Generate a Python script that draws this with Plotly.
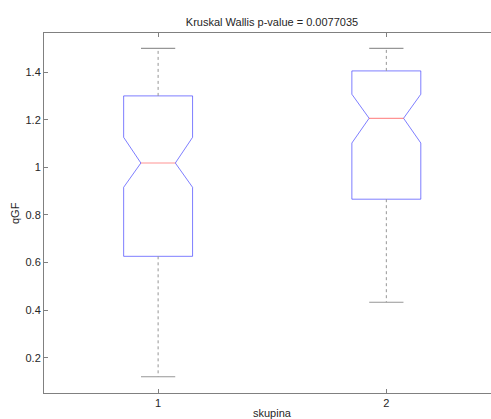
import plotly.graph_objects as go

# ---- data ----
groups = ["1", "2"]
positions = [1, 2]
lower_whisker = [0.12, 0.433]
q1 = [0.626, 0.866]
median = [1.018, 1.206]
q3 = [1.300, 1.405]
upper_whisker = [1.500, 1.500]
notch_low = [0.916, 1.102]
notch_high = [1.126, 1.307]
y_tick_vals = [0.2, 0.4, 0.6, 0.8, 1.0, 1.2, 1.4]
y_tick_text = ["0.2", "0.4", "0.6", "0.8", "1", "1.2", "1.4"]
title_text = "Kruskal Wallis p-value = 0.0077035"
x_title = "skupina"
y_title = "qGF"

# ---- styles ----
BOX_HALF = 0.151
NOTCH_HALF = 0.0755
CAP_HALF = 0.075
BOX_COLOR = "rgba(40,40,255,0.6)"
MED_COLOR = "rgba(255,40,40,0.5)"
WHISK_COLOR = "rgb(150,150,150)"
AXIS_COLOR = "rgb(128,128,128)"
TEXT_COLOR = "#262626"
FONT = "Liberation Sans, Arial, sans-serif"

fig = go.Figure()

for i, p in enumerate(positions):
    # notched box outline
    xs = [p - BOX_HALF, p - BOX_HALF, p - NOTCH_HALF, p - BOX_HALF, p - BOX_HALF,
          p + BOX_HALF, p + BOX_HALF, p + NOTCH_HALF, p + BOX_HALF, p + BOX_HALF,
          p - BOX_HALF]
    ys = [q1[i], notch_low[i], median[i], notch_high[i], q3[i],
          q3[i], notch_high[i], median[i], notch_low[i], q1[i],
          q1[i]]
    fig.add_trace(go.Scatter(x=xs, y=ys, mode="lines",
                             line=dict(color=BOX_COLOR, width=1),
                             hoverinfo="skip", showlegend=False))
    # median
    fig.add_trace(go.Scatter(x=[p - NOTCH_HALF, p + NOTCH_HALF], y=[median[i], median[i]],
                             mode="lines", line=dict(color=MED_COLOR, width=1.2),
                             hoverinfo="skip", showlegend=False))
    # whiskers (dashed)
    fig.add_trace(go.Scatter(x=[p, p], y=[q3[i], upper_whisker[i]], mode="lines",
                             line=dict(color=WHISK_COLOR, width=1, dash="3px,3px"),
                             hoverinfo="skip", showlegend=False))
    fig.add_trace(go.Scatter(x=[p, p], y=[q1[i], lower_whisker[i]], mode="lines",
                             line=dict(color=WHISK_COLOR, width=1, dash="3px,3px"),
                             hoverinfo="skip", showlegend=False))
    # caps
    for v in (upper_whisker[i], lower_whisker[i]):
        fig.add_trace(go.Scatter(x=[p - CAP_HALF, p + CAP_HALF], y=[v, v], mode="lines",
                                 line=dict(color=WHISK_COLOR, width=1.2),
                                 hoverinfo="skip", showlegend=False))

fig.update_layout(
    width=491, height=419,
    margin=dict(l=44, r=0, t=33, b=26, autoexpand=False),
    paper_bgcolor="white", plot_bgcolor="white",
    font=dict(family=FONT, size=11, color=TEXT_COLOR),
    title=dict(text=title_text, xref="container", x=272 / 491, xanchor="center",
               yref="container", y=1 - 22 / 419, yanchor="middle",
               font=dict(family=FONT, size=11, color=TEXT_COLOR)),
    xaxis=dict(range=[0.5, 2.4586], tickmode="array", tickvals=positions, ticktext=groups,
               automargin=False,
               showgrid=False, zeroline=False, showline=True, linecolor=AXIS_COLOR,
               linewidth=1, mirror="ticks", ticks="inside", ticklen=4,
               tickcolor=AXIS_COLOR, tickfont=dict(size=11, color=TEXT_COLOR)),
    yaxis=dict(range=[0.0517, 1.5643], tickmode="array", tickvals=y_tick_vals,
               ticktext=y_tick_text, automargin=False,
               showgrid=False, zeroline=False, showline=True,
               linecolor=AXIS_COLOR, linewidth=1, mirror=False, ticks="inside",
               ticklen=4, tickcolor=AXIS_COLOR, tickfont=dict(size=11, color=TEXT_COLOR)),
    annotations=[
        dict(text=x_title, xref="paper", yref="paper", x=(272 - 44) / 447, y=0,
             xanchor="center", yanchor="top", yshift=-12, showarrow=False,
             font=dict(family=FONT, size=11, color=TEXT_COLOR)),
        dict(text=y_title, xref="paper", yref="paper", x=(15 - 44) / 447, y=0.5,
             xanchor="center", yanchor="middle", textangle=-90, showarrow=False,
             font=dict(family=FONT, size=11, color=TEXT_COLOR)),
    ],
)

fig.write_html("out.html", config={"displayModeBar": False, "staticPlot": True},
               post_script="document.body.style.margin='0';document.body.style.overflow='hidden';")
